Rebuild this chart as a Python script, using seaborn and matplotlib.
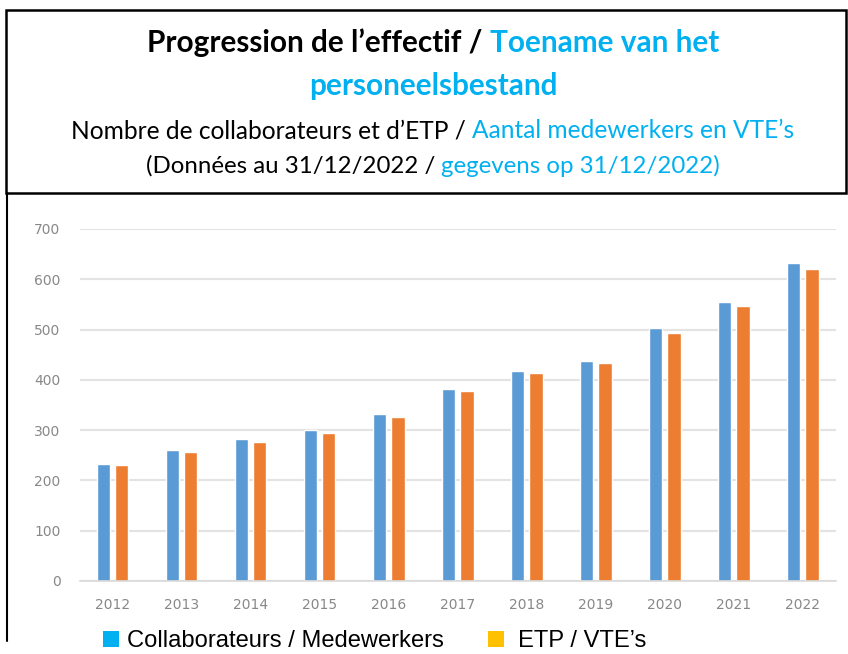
import matplotlib
matplotlib.use("Agg")
import matplotlib.pyplot as plt
import seaborn as sns
import pandas as pd
from matplotlib.patches import Rectangle
from matplotlib.lines import Line2D

years = ["2012", "2013", "2014", "2015", "2016", "2017", "2018", "2019", "2020", "2021", "2022"]
collaborateurs = [233, 261, 283, 300, 332, 382, 418, 438, 503, 554, 632]
etp = [230, 257, 276, 294, 327, 377, 413, 433, 494, 546, 621]
series_names = ["Collaborateurs / Medewerkers", "ETP / VTE\u2019s"]
bar_colors = ["#5B9BD5", "#ED7D31"]
legend_colors = ["#00B0F0", "#FFC000"]
yticks = [0, 100, 200, 300, 400, 500, 600, 700]

title_lines = [
    [("Progression de l\u2019effectif / ", "#000000"), ("Toename van het", "#00B0F0")],
    [("personeelsbestand", "#00B0F0")],
    [("Nombre de collaborateurs et d\u2019ETP / ", "#000000"), ("Aantal medewerkers en VTE\u2019s", "#00B0F0")],
    [("(Donn\u00e9es au 31/12/2022 / ", "#000000"), ("gegevens op 31/12/2022)", "#00B0F0")],
]

df = pd.DataFrame({
    "year": years * 2,
    "value": collaborateurs + etp,
    "series": [series_names[0]] * len(years) + [series_names[1]] * len(years),
})

sns.set_theme(style="white")
plt.rcParams['font.family'] = ['DejaVu Sans']

W, H = 848, 654
fig = plt.figure(figsize=(W / 100, H / 100), dpi=100)
ax = fig.add_axes([80 / W, 1 - 581 / H, (836 - 80) / W, (581 - 229) / H])

sns.barplot(data=df, x="year", y="value", hue="series", palette=bar_colors,
            width=0.53, gap=0.26, ax=ax, legend=False, saturation=1)
ax.set_ylim(0, 700)
ax.set_xlim(-0.47, len(years) - 0.52)
ax.set_yticks(yticks)
ax.set_yticklabels([str(t) for t in yticks])
ax.set_xlabel("")
ax.set_ylabel("")
for s in ["top", "right", "left"]:
    ax.spines[s].set_visible(False)
ax.spines["bottom"].set_color("#d9d9d9")
ax.spines["bottom"].set_linewidth(1.2)
ax.yaxis.grid(True, color="#e3e3e3", linewidth=1.5)
ax.set_axisbelow(True)
ax.tick_params(axis="both", length=0, labelsize=10, colors="#888888", pad=14)
ax.tick_params(axis="x", pad=12)

# header box and left border
fig.add_artist(Rectangle((6 / W, 1 - 193 / H), (846 - 6) / W, (193 - 10) / H,
                         transform=fig.transFigure, fill=False, edgecolor="black", linewidth=1.8))
fig.add_artist(Line2D([7 / W, 7 / W], [1 - 193 / H, 1 - 641 / H], transform=fig.transFigure,
                      color="black", linewidth=1.5))

# multicolored centered titles
renderer = fig.canvas.get_renderer()
specs = [  # (center y px, target width px, bold)
    (43, 572, True),
    (86, 252, True),
    (131, 725, False),
    (166, 571, False),
]
fit_size = None
for i, (segments, (yc, target, bold)) in enumerate(zip(title_lines, specs)):
    weight = "bold" if bold else "normal"
    base = 20
    texts = [fig.text(0, 1 - yc / H, s, color=c, fontsize=base, fontweight=weight,
                      family="Lato", va="center", ha="left") for s, c in segments]
    widths = [t.get_window_extent(renderer).width for t in texts]
    size = base * target / sum(widths)
    if i == 1:
        size = fit_size
    if i == 0:
        fit_size = size
    for t in texts:
        t.set_fontsize(size)
    widths = [t.get_window_extent(renderer).width for t in texts]
    x = 433 - sum(widths) / 2
    for t, w in zip(texts, widths):
        t.set_x(x / W)
        x += w

# legend (text-style legend as in the reference)
legend_layout = [(103, 127.5, 318), (488, 518, 129)]  # square x, text x, target text width (px)
sq = 16
for (sx, tx, tw), name, col in zip(legend_layout, series_names, legend_colors):
    fig.add_artist(Rectangle((sx / W, 1 - 647 / H), sq / W, sq / H, transform=fig.transFigure,
                             facecolor=col, edgecolor="none"))
    t = fig.text(tx / W, 1 - 647 / H, name, family="Liberation Sans", fontsize=16,
                 color="#000000", ha="left", va="baseline")
    w = t.get_window_extent(renderer).width
    t.set_fontsize(16 * tw / w)

fig.savefig("out.png", dpi=100)
